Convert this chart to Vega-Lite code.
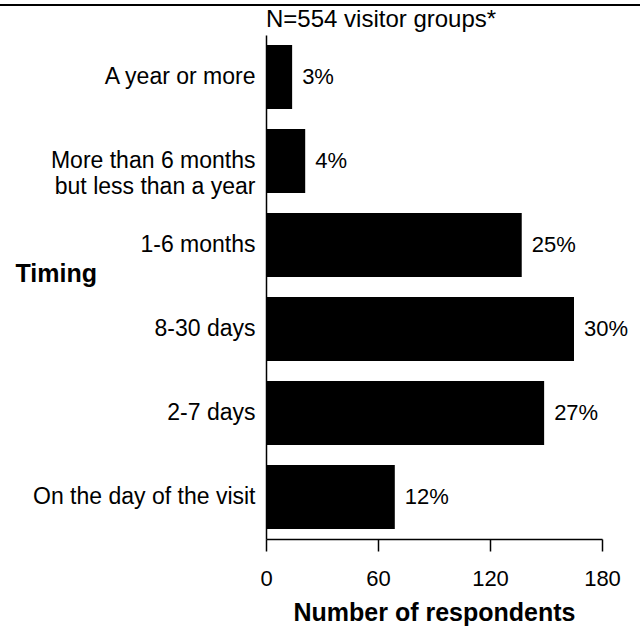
{
  "$schema": "https://vega.github.io/schema/vega-lite/v6.json",
  "width": 336,
  "height": 504,
  "autosize": {"type": "none"},
  "padding": {"left": 266, "top": 35, "right": 38, "bottom": 92},
  "background": "white",
  "config": {"font": "Liberation Sans", "view": {"stroke": null}},
  "title": {
    "text": "N=554 visitor groups*",
    "anchor": "start",
    "frame": "group",
    "fontSize": 24,
    "fontWeight": "normal",
    "baseline": "alphabetic",
    "offset": 8,
    "dy": 55,
    "color": "black"
  },
  "data": {
    "values": [
      {"timing": "A year or more", "count": 14, "pct": "3%"},
      {"timing": "More than 6 months but less than a year", "count": 21, "pct": "4%"},
      {"timing": "1-6 months", "count": 137, "pct": "25%"},
      {"timing": "8-30 days", "count": 165, "pct": "30%"},
      {"timing": "2-7 days", "count": 149, "pct": "27%"},
      {"timing": "On the day of the visit", "count": 69, "pct": "12%"}
    ]
  },
  "layer": [
    {
      "mark": {"type": "bar", "color": "black"},
      "encoding": {
        "y": {
          "field": "timing",
          "type": "nominal",
          "sort": null,
          "scale": {"paddingInner": 0.24, "paddingOuter": 0.12},
          "axis": {
            "title": "Timing",
            "titleAngle": 0,
            "titleAlign": "left",
            "titleBaseline": "alphabetic",
            "titleX": -251,
            "titleY": 246,
            "titleFontSize": 25,
            "titleFontWeight": "bold",
            "titleColor": "black",
            "ticks": false,
            "tickSize": 0,
            "labelPadding": 11,
            "labelFontSize": 23,
            "labelColor": "black",
            "labelLimit": 400,
            "labelLineHeight": 26,
            "labelExpr": "datum.value == 'More than 6 months but less than a year' ? ['More than 6 months', 'but less than a year'] : datum.label",
            "domainColor": "black",
            "domainWidth": 1.5
          }
        },
        "x": {
          "field": "count",
          "type": "quantitative",
          "scale": {"domain": [0, 180], "nice": false},
          "axis": {
            "title": "Number of respondents",
            "titleFontSize": 25,
            "titleFontWeight": "bold",
            "titleColor": "black",
            "titleBaseline": "alphabetic",
            "titleY": 81,
            "values": [0, 60, 120, 180],
            "tickSize": 12,
            "tickColor": "black",
            "tickWidth": 1.5,
            "domainColor": "black",
            "domainWidth": 1.5,
            "labelFontSize": 22,
            "labelColor": "black",
            "labelPadding": 17,
            "labelFlush": false,
            "grid": false
          }
        }
      }
    },
    {
      "mark": {"type": "text", "align": "left", "baseline": "middle", "dx": 10, "fontSize": 22, "color": "black"},
      "encoding": {
        "y": {"field": "timing", "type": "nominal", "sort": null},
        "x": {"field": "count", "type": "quantitative"},
        "text": {"field": "pct"}
      }
    },
    {
      "data": {"values": [{}]},
      "mark": {"type": "rule", "color": "black", "strokeWidth": 2},
      "encoding": {"y": {"value": -30}, "x": {"value": -266}, "x2": {"value": 374}}
    }
  ]
}
